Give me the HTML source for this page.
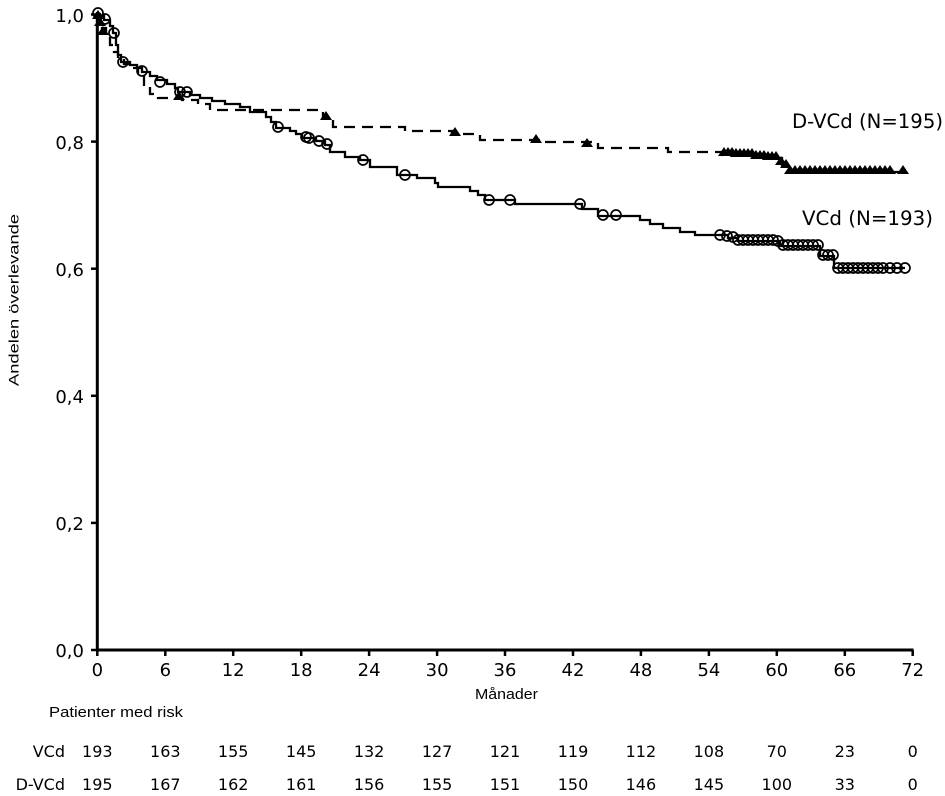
<!DOCTYPE html>
<html>
<head>
<meta charset="utf-8">
<style>
html,body{margin:0;padding:0;background:#fff;}
svg{display:block;}
.t{font-family:"DejaVu Sans","Liberation Sans",sans-serif;fill:#000;}
.a{font-family:"Liberation Sans",Arial,sans-serif;fill:#000;}
</style>
</head>
<body>
<svg width="945" height="796" viewBox="0 0 945 796" xmlns="http://www.w3.org/2000/svg">
<rect width="945" height="796" fill="#fff"/>

<!-- axes -->
<g stroke="#000" fill="none">
<line x1="97.3" y1="12" x2="97.3" y2="651.5" stroke-width="3"/>
<line x1="96" y1="650" x2="913.5" y2="650" stroke-width="3"/>
<g stroke-width="2.5">
<line x1="91" y1="14.5" x2="97" y2="14.5"/>
<line x1="91" y1="141.6" x2="97" y2="141.6"/>
<line x1="91" y1="268.7" x2="97" y2="268.7"/>
<line x1="91" y1="395.8" x2="97" y2="395.8"/>
<line x1="91" y1="522.9" x2="97" y2="522.9"/>
<line x1="91" y1="650" x2="97" y2="650"/>
<line x1="97.3" y1="650" x2="97.3" y2="656"/>
<line x1="165.3" y1="650" x2="165.3" y2="656"/>
<line x1="233.2" y1="650" x2="233.2" y2="656"/>
<line x1="301.2" y1="650" x2="301.2" y2="656"/>
<line x1="369.1" y1="650" x2="369.1" y2="656"/>
<line x1="437.1" y1="650" x2="437.1" y2="656"/>
<line x1="505" y1="650" x2="505" y2="656"/>
<line x1="573" y1="650" x2="573" y2="656"/>
<line x1="640.9" y1="650" x2="640.9" y2="656"/>
<line x1="708.9" y1="650" x2="708.9" y2="656"/>
<line x1="776.8" y1="650" x2="776.8" y2="656"/>
<line x1="844.8" y1="650" x2="844.8" y2="656"/>
<line x1="912.7" y1="650" x2="912.7" y2="656"/>
</g>
</g>

<!-- y tick labels -->
<g class="t" font-size="18" text-anchor="end">
<text x="84" y="22">1,0</text>
<text x="84" y="149">0,8</text>
<text x="84" y="276">0,6</text>
<text x="84" y="403">0,4</text>
<text x="84" y="530">0,2</text>
<text x="84" y="657">0,0</text>
</g>
<!-- x tick labels -->
<g class="t" font-size="18" text-anchor="middle">
<text x="97.3" y="676">0</text>
<text x="165.3" y="676">6</text>
<text x="233.2" y="676">12</text>
<text x="301.2" y="676">18</text>
<text x="369.1" y="676">24</text>
<text x="437.1" y="676">30</text>
<text x="505" y="676">36</text>
<text x="573" y="676">42</text>
<text x="640.9" y="676">48</text>
<text x="708.9" y="676">54</text>
<text x="776.8" y="676">60</text>
<text x="844.8" y="676">66</text>
<text x="912.7" y="676">72</text>
</g>

<text class="a" x="475" y="699" font-size="15" textLength="63" lengthAdjust="spacingAndGlyphs">Månader</text>
<text class="a" x="0" y="0" font-size="14" text-anchor="middle" transform="translate(18.5,300) rotate(-90)" textLength="172" lengthAdjust="spacingAndGlyphs">Andelen överlevande</text>
<text class="a" x="49" y="717" font-size="15" textLength="134" lengthAdjust="spacingAndGlyphs">Patienter med risk</text>

<!-- risk table -->
<g class="t" font-size="16">
<text x="65" y="757" text-anchor="end">VCd</text>
<text x="65" y="790" text-anchor="end">D-VCd</text>
</g>
<g class="t" font-size="16" text-anchor="middle">
<text x="97.3" y="757">193</text>
<text x="165.3" y="757">163</text>
<text x="233.2" y="757">155</text>
<text x="301.2" y="757">145</text>
<text x="369.1" y="757">132</text>
<text x="437.1" y="757">127</text>
<text x="505" y="757">121</text>
<text x="573" y="757">119</text>
<text x="640.9" y="757">112</text>
<text x="708.9" y="757">108</text>
<text x="776.8" y="757">70</text>
<text x="844.8" y="757">23</text>
<text x="912.7" y="757">0</text>
<text x="97.3" y="790">195</text>
<text x="165.3" y="790">167</text>
<text x="233.2" y="790">162</text>
<text x="301.2" y="790">161</text>
<text x="369.1" y="790">156</text>
<text x="437.1" y="790">155</text>
<text x="505" y="790">151</text>
<text x="573" y="790">150</text>
<text x="640.9" y="790">146</text>
<text x="708.9" y="790">145</text>
<text x="776.8" y="790">100</text>
<text x="844.8" y="790">33</text>
<text x="912.7" y="790">0</text>
</g>

<!-- series labels -->
<g class="t" font-size="19.5">
<text x="792" y="128" textLength="151" lengthAdjust="spacingAndGlyphs">D-VCd (N=195)</text>
<text x="802" y="225" textLength="131" lengthAdjust="spacingAndGlyphs">VCd (N=193)</text>
</g>

<!-- VCd solid -->
<path fill="none" stroke="#000" stroke-width="2.3" d="M97,14 H100 V16 H104 V20 H110 V26 H113 V33 H116 V45 H118 V55 H121 V62 H130 V65 H137 V68 H142 V72 H150 V76 H157 V80 H167 V84 H175 V88 H178 V92 H190 V95 H200 V98 H212 V101 H225 V104 H240 V107 H250 V112 H266 V117 H271 V122 H276 V128 H290 V131 H296 V134 H302 V138 H316 V141 H325 V145 H330 V152 H345 V157 H360 V160 H370 V167 H397 V175 H417 V178 H435 V183 H438 V187 H470 V191 H478 V195 H485 V200 H515 V204 H582 V209 H598 V216 H640 V220 H650 V224 H663 V228 H680 V232 H695 V235 H728 V238 H738 V241 H780 V246 H820 V256 H834 V268 H905"/>

<!-- D-VCd dashed -->
<path fill="none" stroke="#000" stroke-width="2.3" stroke-dasharray="11 7" d="M97,14 H99 V20 H102 V28 H106 V34 H110 V45 H114 V52 H118 V58 H124 V64 H132 V68 H138 V76 H144 V86 H150 V94 H158 V98 H182 V100 H198 V104 H210 V110 H323 V117 H333 V127 H405 V131 H452 V134 H480 V140 H540 V142 H598 V148 H668 V152 H722 V155 H760 V158 H782 V165 H790 V172 H905"/>

<!-- circle markers -->
<g fill="none" stroke="#000" stroke-width="1.7">
<circle cx="98" cy="13" r="5"/><circle cx="105" cy="19" r="5"/><circle cx="114" cy="33" r="5"/>
<circle cx="123" cy="62" r="5"/><circle cx="142" cy="71" r="5"/><circle cx="160" cy="82" r="5"/>
<circle cx="180" cy="92" r="5"/><circle cx="187" cy="92" r="5"/><circle cx="278" cy="127" r="5"/>
<circle cx="306" cy="137" r="5"/><circle cx="309" cy="138" r="5"/><circle cx="319" cy="141" r="5"/>
<circle cx="327" cy="144" r="5"/><circle cx="363" cy="160" r="5"/><circle cx="405" cy="175" r="5"/>
<circle cx="489" cy="200" r="5"/><circle cx="510" cy="200" r="5"/><circle cx="580" cy="204" r="5"/>
<circle cx="603" cy="215" r="5"/><circle cx="616" cy="215" r="5"/>
<circle cx="720" cy="235" r="5"/><circle cx="727" cy="236" r="5"/><circle cx="733" cy="237" r="5"/>
<circle cx="738" cy="240" r="5"/><circle cx="743" cy="240" r="5"/><circle cx="748" cy="240" r="5"/>
<circle cx="753" cy="240" r="5"/><circle cx="758" cy="240" r="5"/><circle cx="763" cy="240" r="5"/>
<circle cx="768" cy="240" r="5"/><circle cx="773" cy="240" r="5"/><circle cx="778" cy="241" r="5"/>
<circle cx="783" cy="245" r="5"/><circle cx="788" cy="245" r="5"/><circle cx="793" cy="245" r="5"/>
<circle cx="798" cy="245" r="5"/><circle cx="803" cy="245" r="5"/><circle cx="808" cy="245" r="5"/>
<circle cx="813" cy="245" r="5"/><circle cx="818" cy="245" r="5"/>
<circle cx="823" cy="255" r="5"/><circle cx="828" cy="255" r="5"/><circle cx="833" cy="255" r="5"/>
<circle cx="838" cy="268" r="5"/><circle cx="843" cy="268" r="5"/><circle cx="848" cy="268" r="5"/>
<circle cx="853" cy="268" r="5"/><circle cx="858" cy="268" r="5"/><circle cx="863" cy="268" r="5"/>
<circle cx="868" cy="268" r="5"/><circle cx="873" cy="268" r="5"/><circle cx="878" cy="268" r="5"/>
<circle cx="883" cy="268" r="5"/><circle cx="890" cy="268" r="5"/><circle cx="897" cy="268" r="5"/>
<circle cx="905" cy="268" r="5"/>
</g>

<!-- triangle markers -->
<g fill="#000">
<path d="M92,19 h12 l-6,-9 z"/><path d="M94,26 h12 l-6,-9 z"/><path d="M97,35 h12 l-6,-9 z"/>
<path d="M173,100 h12 l-6,-9 z"/><path d="M320,120 h12 l-6,-9 z"/><path d="M449,136 h12 l-6,-9 z"/>
<path d="M530,143 h12 l-6,-9 z"/><path d="M581,147 h12 l-6,-9 z"/>
<path d="M718,156 h12 l-6,-9 z"/><path d="M722,156 h12 l-6,-9 z"/><path d="M726,156 h12 l-6,-9 z"/>
<path d="M730,157 h12 l-6,-9 z"/><path d="M734,157 h12 l-6,-9 z"/><path d="M738,157 h12 l-6,-9 z"/>
<path d="M742,157 h12 l-6,-9 z"/><path d="M746,157 h12 l-6,-9 z"/><path d="M750,159 h12 l-6,-9 z"/>
<path d="M754,159 h12 l-6,-9 z"/><path d="M758,159 h12 l-6,-9 z"/><path d="M762,160 h12 l-6,-9 z"/>
<path d="M766,160 h12 l-6,-9 z"/><path d="M770,160 h12 l-6,-9 z"/><path d="M775,165 h12 l-6,-9 z"/>
<path d="M780,168 h12 l-6,-9 z"/>
<path d="M784,174 h12 l-6,-9 z"/><path d="M789,174 h12 l-6,-9 z"/><path d="M794,174 h12 l-6,-9 z"/>
<path d="M799,174 h12 l-6,-9 z"/><path d="M804,174 h12 l-6,-9 z"/><path d="M809,174 h12 l-6,-9 z"/>
<path d="M814,174 h12 l-6,-9 z"/><path d="M819,174 h12 l-6,-9 z"/><path d="M824,174 h12 l-6,-9 z"/>
<path d="M829,174 h12 l-6,-9 z"/><path d="M834,174 h12 l-6,-9 z"/><path d="M839,174 h12 l-6,-9 z"/>
<path d="M844,174 h12 l-6,-9 z"/><path d="M849,174 h12 l-6,-9 z"/><path d="M854,174 h12 l-6,-9 z"/>
<path d="M859,174 h12 l-6,-9 z"/><path d="M864,174 h12 l-6,-9 z"/><path d="M869,174 h12 l-6,-9 z"/>
<path d="M874,174 h12 l-6,-9 z"/><path d="M879,174 h12 l-6,-9 z"/><path d="M884,174 h12 l-6,-9 z"/>
<path d="M897,174 h12 l-6,-9 z"/>
</g>
</svg>
</body>
</html>
